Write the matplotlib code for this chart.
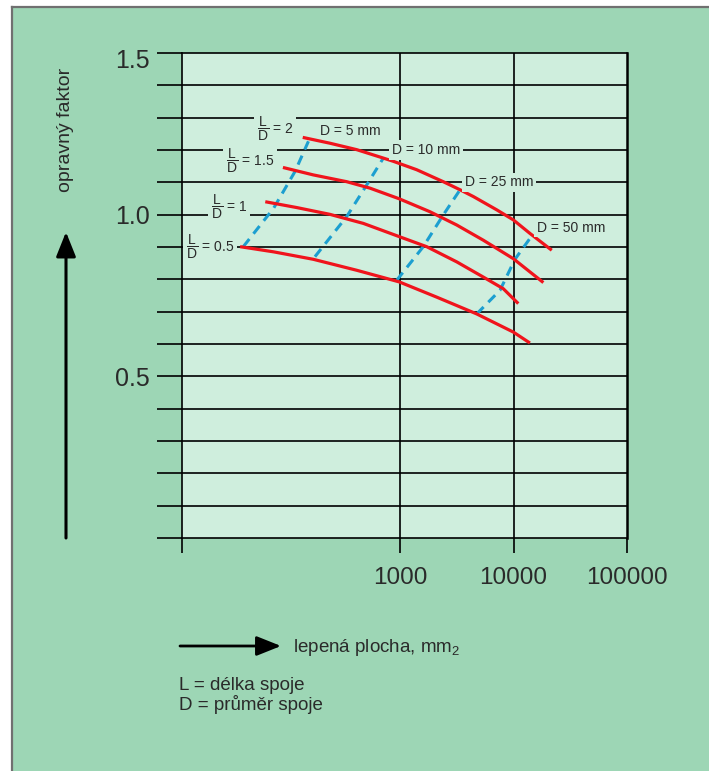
import numpy as np
import matplotlib
matplotlib.use("Agg")
import matplotlib.pyplot as plt
import matplotlib.transforms as mtransforms
from matplotlib.patches import Rectangle, FancyArrowPatch, ArrowStyle
from matplotlib.lines import Line2D

plt.rcParams['font.family'] = ['Liberation Sans', 'DejaVu Sans']
plt.rcParams['mathtext.fontset'] = 'custom'
plt.rcParams['mathtext.rm'] = 'Liberation Sans'
plt.rcParams['mathtext.it'] = 'Liberation Sans:italic'
plt.rcParams['mathtext.bf'] = 'Liberation Sans:bold'
plt.rcParams['mathtext.sf'] = 'Liberation Sans'

# ---- data: correction factor vs. bonded area (mm^2), one curve per L/D ----
ld2_x = [139, 241, 416, 713, 873, 1403, 2404, 3381, 4430, 7112, 9950, 13960, 21730]
ld2_y = [1.239, 1.221, 1.201, 1.175, 1.165, 1.139, 1.102, 1.077, 1.056, 1.015, 0.984, 0.942, 0.890]

ld15_x = [93, 172, 339, 544, 986, 1838, 3162, 5420, 9950, 18330]
ld15_y = [1.146, 1.123, 1.102, 1.082, 1.049, 1.009, 0.968, 0.921, 0.864, 0.790]

ld1_x = [65, 123, 241, 475, 986, 1718, 3162, 5420, 8130, 11020]
ld1_y = [1.040, 1.022, 1.001, 0.973, 0.932, 0.901, 0.854, 0.807, 0.771, 0.725]

ld05_x = [39, 77, 172, 416, 986, 2104, 4742, 9950, 13960]
ld05_y = [0.901, 0.885, 0.862, 0.828, 0.792, 0.745, 0.693, 0.637, 0.603]

# constant-diameter lines
d5_x = [41.6, 77, 119, 156]
d5_y = [0.901, 1.020, 1.134, 1.227]
d10_x = [178, 339, 509, 713]
d10_y = [0.870, 0.994, 1.092, 1.175]
d25_x = [935, 1603, 2404, 3381]
d25_y = [0.797, 0.901, 0.999, 1.077]
d50_x = [4742, 7600, 10300, 14450]
d50_y = [0.693, 0.766, 0.862, 0.934]

ld_labels = [r'$\dfrac{\mathrm{L}}{\mathrm{D}}$ = 2', r'$\dfrac{\mathrm{L}}{\mathrm{D}}$ = 1.5',
             r'$\dfrac{\mathrm{L}}{\mathrm{D}}$ = 1', r'$\dfrac{\mathrm{L}}{\mathrm{D}}$ = 0.5']
ld_label_pos = [(79.3, 1.267), (47.7, 1.165), (31.1, 1.025), (21.2, 0.901)]
d_labels = ['D = 5 mm', 'D = 10 mm', 'D = 25 mm', 'D = 50 mm']
d_label_pos = [(197, 1.259), (851, 1.2), (3744, 1.1), (16100, 0.96)]

x_ticks = [12.0, 1e3, 1e4, 1e5]
x_ticklabels = ['', '1000', '10000', '100000']
y_ticks = [round(v, 1) for v in np.arange(0, 1.51, 0.1)]
y_ticklabels = [f'{v:.1f}' if v in (0.5, 1.0, 1.5) else '' for v in y_ticks]

PANEL = '#9dd6b5'
PLOT = '#cfeedd'
RED = '#f0141c'
BLUE = '#1c9fd0'
TXT = '#2a2a2a'

W, H = 709, 771
def fx(px):
    return px / W
def fy(py):
    return 1 - py / H

fig = plt.figure(figsize=(W / 100, H / 100), dpi=100)
fig.patch.set_facecolor('white')

# green panel with grey top/left rule
fig.add_artist(Rectangle((fx(12), 0), 1 - fx(12), fy(7), transform=fig.transFigure,
                         facecolor=PANEL, edgecolor='none', zorder=0))
fig.add_artist(Line2D([fx(11.5), fx(11.5)], [0, fy(6.5)], transform=fig.transFigure,
                      color='#707070', lw=1.6))
fig.add_artist(Line2D([fx(11.5), 1], [fy(6.5), fy(6.5)], transform=fig.transFigure,
                      color='#707070', lw=1.6))

ax = fig.add_axes([fx(182), fy(538), fx(627) - fx(182), fy(53) - fy(538)])
ax.set_facecolor(PLOT)
ax.set_xscale('log')
ax.set_xlim(x_ticks[0], x_ticks[-1])
ax.set_ylim(0, 1.5)

ax.set_xticks(x_ticks, labels=x_ticklabels)
ax.xaxis.set_minor_locator(matplotlib.ticker.NullLocator())
ax.set_yticks(y_ticks, labels=y_ticklabels)
ax.tick_params(axis='x', length=11, width=1.2, pad=10, labelsize=17.5,
               labelcolor=TXT, color='black')
ax.tick_params(axis='y', length=18, width=1.2, pad=5, labelsize=18,
               labelcolor=TXT, color='black')
# top label sits a little below its tick
shift = mtransforms.ScaledTranslation(0, -5 / 100, fig.dpi_scale_trans)
for lab in ax.get_yticklabels():
    if lab.get_text() == '1.5':
        lab.set_transform(lab.get_transform() + shift)

for s in ax.spines.values():
    s.set_linewidth(1.2)
ax.spines['right'].set_linewidth(1.8)

for v in y_ticks[1:-1]:
    ax.axhline(v, color='black', lw=1.2, zorder=1)
for v in x_ticks[1:-1]:
    ax.axvline(v, color='black', lw=1.2, zorder=1)

for xs, ys in [(ld2_x, ld2_y), (ld15_x, ld15_y), (ld1_x, ld1_y), (ld05_x, ld05_y)]:
    ax.plot(xs, ys, color=RED, lw=2.3, solid_capstyle='butt', solid_joinstyle='round', zorder=3)
for xs, ys in [(d5_x, d5_y), (d10_x, d10_y), (d25_x, d25_y), (d50_x, d50_y)]:
    ax.plot(xs, ys, color=BLUE, lw=2.2, dashes=(3.2, 2.2), zorder=2.5)

box = dict(boxstyle='square,pad=0.2', fc=PLOT, ec='none')
small_box = dict(boxstyle='square,pad=0.05', fc=PLOT, ec='none')
for lab, (x, y) in zip(ld_labels, ld_label_pos):
    ax.text(x, y, lab, ha='center', va='center', fontsize=10, color=TXT,
            bbox=box, zorder=5)
for i, (lab, (x, y)) in enumerate(zip(d_labels, d_label_pos)):
    ax.text(x, y, lab, ha='left', va='center', fontsize=10, color=TXT,
            bbox=small_box if i == 0 else box, zorder=5)

# axis captions and arrows
fig.text(fx(66), fy(130), 'opravný faktor', rotation=90, ha='center', va='center',
         fontsize=14, color=TXT)
fig.add_artist(FancyArrowPatch((fx(66), fy(538)), (fx(66), fy(232)), transform=fig.transFigure,
                               arrowstyle=ArrowStyle('-|>', head_length=15, head_width=6),
                               mutation_scale=1, lw=2.2, color='black', shrinkA=0, shrinkB=0))
fig.add_artist(FancyArrowPatch((fx(180), fy(646)), (fx(281), fy(646)), transform=fig.transFigure,
                               arrowstyle=ArrowStyle('-|>', head_length=15, head_width=6),
                               mutation_scale=1, lw=2.0, color='black', shrinkA=0, shrinkB=0))
fig.text(fx(293), fy(647), r'lepená plocha, mm$_2$', ha='left', va='center',
         fontsize=13.5, color=TXT)
fig.text(fx(179), fy(686), 'L = délka spoje', ha='left', va='center', fontsize=13.5, color=TXT)
fig.text(fx(179), fy(704), 'D = průměr spoje', ha='left', va='center', fontsize=13.5, color=TXT)

fig.savefig('out.png', dpi=100, facecolor=fig.get_facecolor())
